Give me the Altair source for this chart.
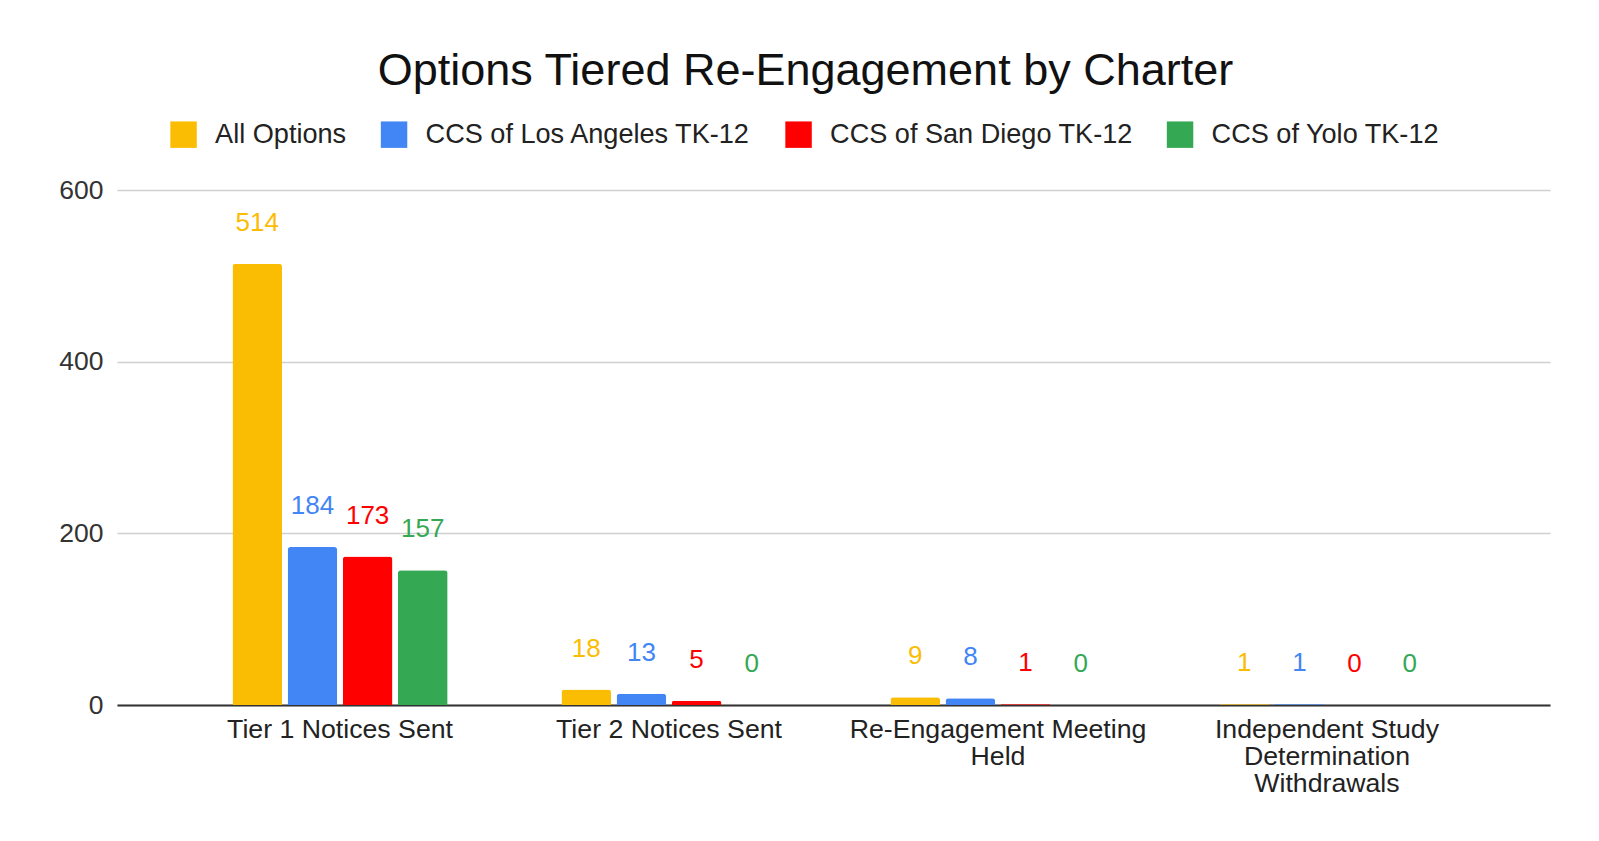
import altair as alt
import pandas as pd

categories = ["Tier 1 Notices Sent", "Tier 2 Notices Sent",
              "Re-Engagement Meeting Held", "Independent Study Determination Withdrawals"]
series = ["All Options", "CCS of Los Angeles TK-12", "CCS of San Diego TK-12", "CCS of Yolo TK-12"]
all_options = [514, 18, 9, 1]
los_angeles = [184, 13, 8, 1]
san_diego = [173, 5, 1, 0]
yolo = [157, 0, 0, 0]
colors = ["#fbbc04", "#4285f4", "#ff0000", "#34a853"]
y_ticks = [0, 200, 400, 600]

rows = []
for s, vals in zip(series, [all_options, los_angeles, san_diego, yolo]):
    for c, v in zip(categories, vals):
        rows.append({"category": c, "series": s, "value": v})
df = pd.DataFrame(rows)

FONT = "Liberation Sans"

label_expr = (
    "datum.label == 'Re-Engagement Meeting Held' ? ['Re-Engagement Meeting', 'Held'] : "
    "datum.label == 'Independent Study Determination Withdrawals' ? "
    "['Independent Study', 'Determination', 'Withdrawals'] : datum.label"
)

x = alt.X("category:N", sort=categories, title=None,
          scale=alt.Scale(paddingInner=0.346, paddingOuter=0.351),
          axis=alt.Axis(labelAngle=0, labelFont=FONT, labelFontSize=26.7, labelColor="#222",
                        labelExpr=label_expr, labelLineHeight=27, ticks=False,
                        labelPadding=11, domainColor="#333", domainWidth=2, grid=False,
                        labelLimit=400))
xo = alt.XOffset("series:N", sort=series, scale=alt.Scale(paddingInner=0.1, paddingOuter=0))
y = alt.Y("value:Q", title=None,
          scale=alt.Scale(domain=[0, 600], nice=False),
          axis=alt.Axis(values=y_ticks, labelFont=FONT, labelFontSize=26.5, labelColor="#333",
                        domain=False, ticks=False, labelPadding=14,
                        gridColor="#d0d0d0", gridWidth=1.5))
color = alt.Color("series:N", sort=series,
                  scale=alt.Scale(domain=series, range=colors),
                  legend=alt.Legend(title=None, orient="none", direction="horizontal",
                                    legendX=53, legendY=-69, symbolType="square",
                                    symbolSize=700, symbolStrokeWidth=0,
                                    labelFont=FONT, labelFontSize=27.1, labelColor="#222",
                                    labelOffset=18, columnPadding=33.5, labelLimit=600))

base = alt.Chart(df)
bars = base.mark_bar(cornerRadiusTopLeft=3, cornerRadiusTopRight=3).encode(
    x=x, xOffset=xo, y=y, color=color)
texts = base.mark_text(baseline="middle", align="center", dy=-41, font=FONT, fontSize=26).encode(
    x=x, xOffset=xo, y=y, text="value:Q",
    color=alt.Color("series:N", sort=series, scale=alt.Scale(domain=series, range=colors), legend=None))

chart = (bars + texts).properties(
    width=1433, height=515,
    title=alt.TitleParams("Options Tiered Re-Engagement by Charter", font=FONT, fontSize=45,
                          fontWeight="normal", color="#111", anchor="middle", dx=-28,
                          offset=27, frame="group"),
    autosize=alt.AutoSizeParams(type="none"),
    padding={"left": 109, "top": 182, "right": 40, "bottom": 100},
).configure_view(stroke=None)

chart.save("out.html", embed_options={"renderer": "svg", "actions": False})
